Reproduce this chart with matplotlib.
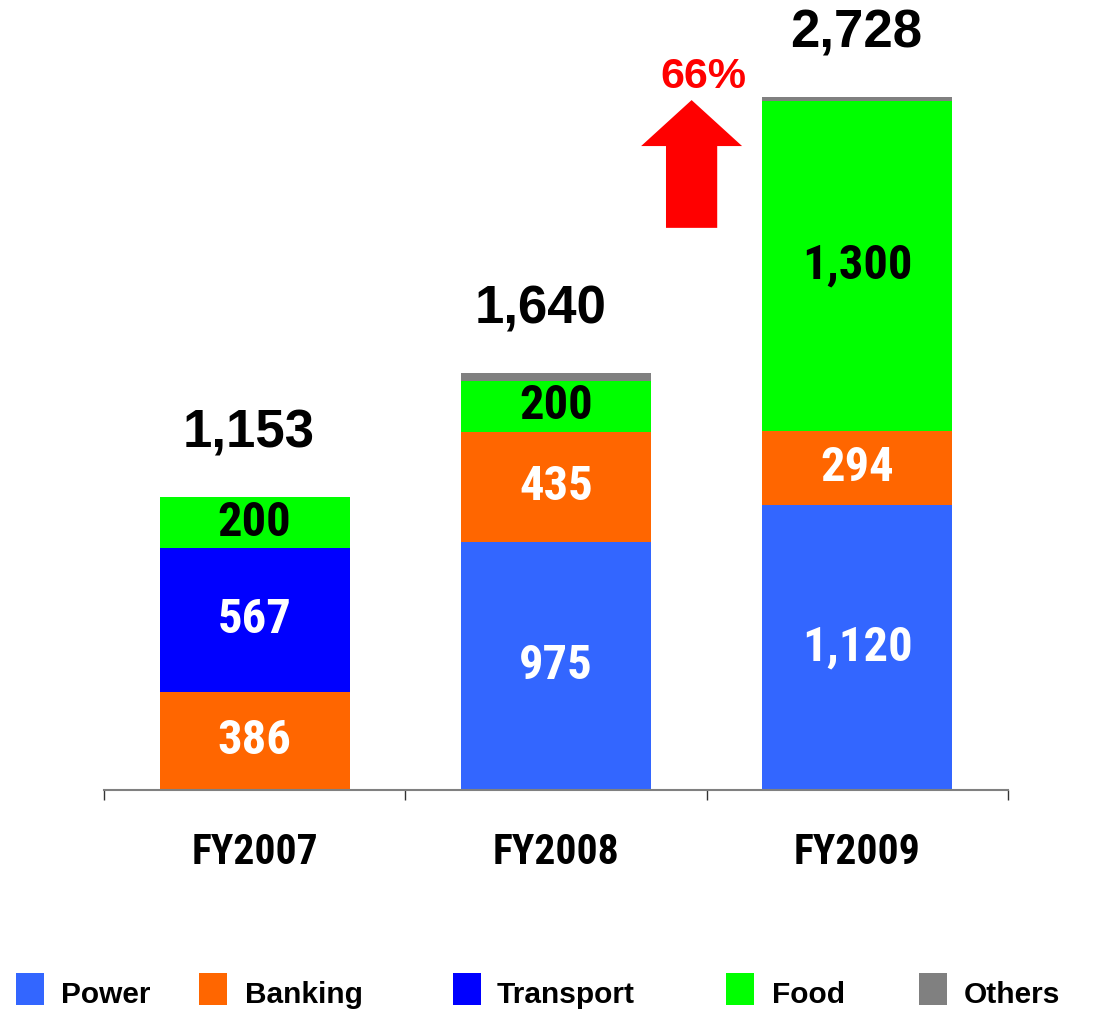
import numpy as np
import matplotlib
matplotlib.use('Agg')
import matplotlib.pyplot as plt
from matplotlib.patches import Rectangle, FancyArrow

years = ['FY2007', 'FY2008', 'FY2009']
segments = ['Power', 'Banking', 'Transport', 'Food', 'Others']
power = [0, 975, 1120]
banking = [386, 435, 294]
transport = [567, 0, 0]
food = [200, 200, 1300]
others = [0, 30, 14]
totals = [1153, 1640, 2728]
growth = '66%'

colors = ['#3366FF', '#FF6600', '#0000FF', '#00FF00', '#808080']
label_colors = ['white', 'white', 'white', 'black', 'black']
total_dx = [-4, -11, -1]  # points, totals sit a bit left of centre

NARROW = ['Liberation Sans Narrow', 'Arial Narrow', 'Roboto Condensed',
          'Liberation Sans', 'DejaVu Sans']
WIDE = ['Liberation Sans', 'DejaVu Sans']

fig = plt.figure(figsize=(11.06, 10.10), dpi=100)
ax = fig.add_axes([104 / 1106, 1 - 790 / 1010, 904 / 1106, 790 / 1010])

x = np.arange(len(years))
bottom = np.zeros(len(years))
series = [power, banking, transport, food, others]
for name, vals, col, lc in zip(segments, series, colors, label_colors):
    vals = np.array(vals, dtype=float)
    ax.bar(x, vals, 0.63, bottom=bottom, color=col, linewidth=0)
    if name != 'Others':
        for xi, b, v in zip(x, bottom, vals):
            if v > 0:
                ax.text(xi, b + v / 2, f'{int(v):,}', ha='center', va='center',
                        fontsize=35, fontweight='bold', color=lc, family=NARROW)
    bottom += vals

for xi, t, dx in zip(x, totals, total_dx):
    ax.annotate(f'{t:,}', (xi, t), xytext=(dx, 36), textcoords='offset points',
                ha='center', va='baseline', fontsize=38, fontweight='bold',
                family=WIDE)

# growth arrow
ax.add_patch(FancyArrow(1.45, 2213, 0, 503, width=0.17, head_width=0.335,
                        head_length=181, length_includes_head=True,
                        color='red', linewidth=0))
ax.text(1.49, 2764, growth, ha='center', va='baseline', fontsize=31,
        fontweight='bold', color='red', family=WIDE)

ax.set_xlim(-0.5, 2.5)
ax.set_ylim(0, 3110)
for s in ['top', 'right', 'left']:
    ax.spines[s].set_visible(False)
ax.spines['bottom'].set_color('#808080')
ax.spines['bottom'].set_linewidth(1.5)
ax.set_yticks([])
ax.set_xticks(x)
ax.set_xticklabels(years, fontsize=30, fontweight='bold', family=NARROW)
ax.tick_params(axis='x', which='major', length=0, pad=30)
ax.set_xticks([-0.5, 0.5, 1.5, 2.5], minor=True)
ax.tick_params(axis='x', which='minor', length=7, width=1, color='#333333',
               direction='out')

# legend
sq_x = [16, 199, 453, 726, 919]
txt_x = [61, 245, 497, 772, 964]
for name, col, sx, tx in zip(segments, colors, sq_x, txt_x):
    fig.patches.append(Rectangle((sx / 1106, 1 - 1005 / 1010), 28 / 1106, 32 / 1010,
                                 transform=fig.transFigure, color=col, linewidth=0))
    fig.text(tx / 1106, 1 - 1003 / 1010, name, ha='left', va='baseline',
             fontsize=21.5, fontweight='bold', family=WIDE)

fig.savefig('out.png', dpi=100)
